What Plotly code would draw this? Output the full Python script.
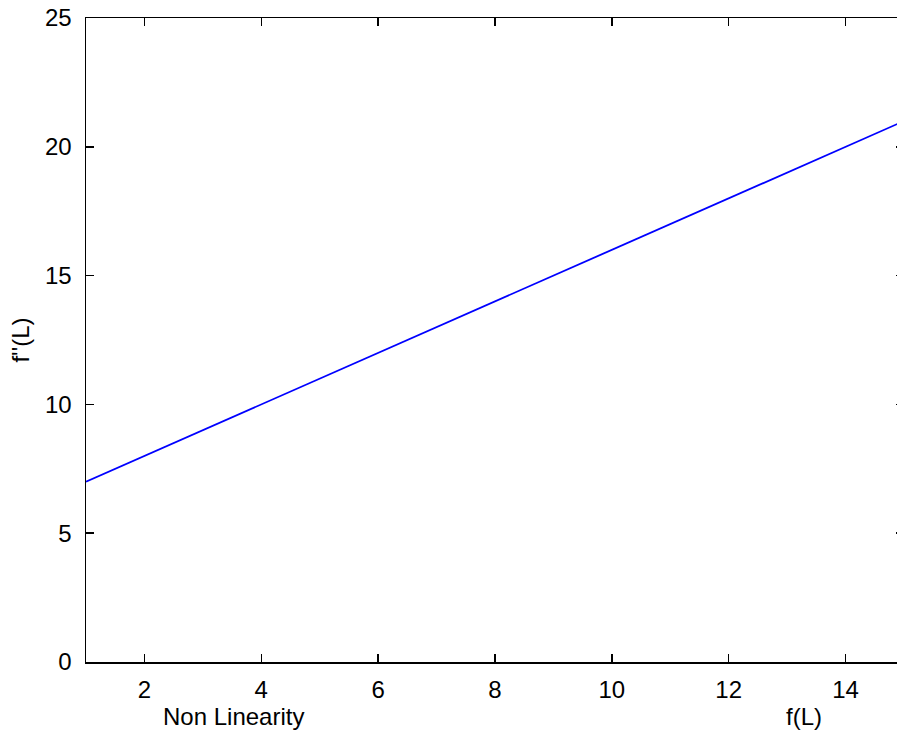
import plotly.graph_objects as go

# data
f_L = [1, 2, 3, 4, 5, 6, 7, 8, 9, 10, 11, 12, 13, 14, 15]
f2_L = [7, 8, 9, 10, 11, 12, 13, 14, 15, 16, 17, 18, 19, 20, 21]
x_ticks = [2, 4, 6, 8, 10, 12, 14]
y_ticks = [0, 5, 10, 15, 20, 25]

FONT = "Liberation Sans, Arial, sans-serif"
# the original figure is cropped on the right: the axes box extends past the window
W, H = 905, 735
L, R, T, B = 86, 1, 18, 73

fig = go.Figure()
fig.add_trace(go.Scatter(x=f_L, y=f2_L, mode="lines",
                         line=dict(color="#0000ff", width=1.8),
                         showlegend=False, hoverinfo="skip"))

axis_common = dict(ticks="inside", ticklen=8, tickwidth=1.5, tickcolor="black",
                   showline=True, linecolor="black", linewidth=1.5,
                   mirror="ticks", showgrid=False, zeroline=False,
                   automargin=False, ticklabeloverflow="allow",
                   tickfont=dict(size=24))

fig.update_layout(
    width=W, height=H,
    margin=dict(l=L, r=R, t=T, b=B, pad=0),
    paper_bgcolor="white", plot_bgcolor="white",
    font=dict(family=FONT, size=24, color="black"),
    xaxis=dict(range=[1, 15], tickvals=x_ticks, ticklabelstandoff=6, **axis_common),
    yaxis=dict(range=[0, 25], tickvals=y_ticks, ticklabelstandoff=8,
               title=dict(text="f''(L)", font=dict(size=24), standoff=8),
               **axis_common),
)

plot_w = W - L - R
plot_h = H - T - B
def px_to_paper_x(px):
    return (px - L) / plot_w
def px_to_paper_y(py):
    return (H - B - py) / plot_h

fig.add_annotation(text="Non Linearity", x=px_to_paper_x(233), y=px_to_paper_y(716),
                   xref="paper", yref="paper", showarrow=False,
                   xanchor="center", yanchor="middle", font=dict(size=24, family=FONT))
fig.add_annotation(text="f(L)", x=px_to_paper_x(804), y=px_to_paper_y(716),
                   xref="paper", yref="paper", showarrow=False,
                   xanchor="center", yanchor="middle", font=dict(size=24, family=FONT))

page_css = ("document.documentElement.style.margin='0';"
            "document.body.style.margin='0';"
            "document.body.style.overflow='hidden';"
            "document.documentElement.style.overflow='hidden';")
fig.write_html("out.html", post_script=page_css,
               config={"displayModeBar": False, "staticPlot": True})
